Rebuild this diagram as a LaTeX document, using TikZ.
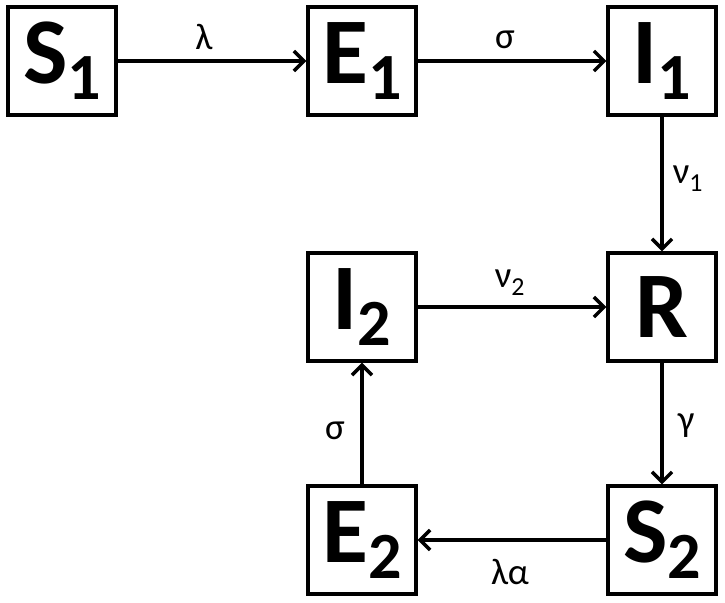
\documentclass[tikz,border=0pt]{standalone}
\usepackage{fontspec}
\setmainfont{Carlito}
\usetikzlibrary{arrows.meta}
\tikzset{
  compbox/.style={draw, line width=3.4pt, minimum width=108pt, minimum height=108pt, inner sep=0pt, font=\bfseries\fontsize{94}{94}\selectfont},
  flow/.style={line width=3.4pt, -{Straight Barb[length=10pt,width=20pt,line width=3.4pt]}},
  rate/.style={font=\fontsize{37}{37}\selectfont, inner sep=0pt}
}
\newcommand{\sbx}[1]{\raisebox{-16pt}{\fontsize{66}{66}\selectfont #1}}
\begin{document}
\begin{tikzpicture}[x=1pt,y=-1pt]
\useasboundingbox (0,0) rectangle (725,602);
\node[compbox] (S1) at (62,61) {S\sbx{1}};
\node[compbox] (E1) at (362,61) {E\sbx{1}};
\node[compbox] (I1) at (662,61) {I\sbx{1}};
\node[compbox] (R) at (662,307) {R};
\node[compbox] (I2) at (362,307) {I\sbx{2}};
\node[compbox] (E2) at (362,540) {E\sbx{2}};
\node[compbox] (S2) at (662,540) {S\sbx{2}};
\draw[flow] (S1) -- (E1);
\draw[flow] (E1) -- (I1);
\draw[flow] (I1) -- (R);
\draw[flow] (I2) -- (R);
\draw[flow] (R) -- (S2);
\draw[flow] (S2) -- (E2);
\draw[flow] (E2) -- (I2);
\node[rate] (l1) at (204,37) {λ};
\node[rate] (s1) at (505,40) {σ};
\node[rate] (n1) at (688,179) {ν\textsubscript{1}};
\node[rate] (n2) at (510,283) {ν\textsubscript{2}};
\node[rate] (g) at (686,426) {γ};
\node[rate] (s2) at (335,431) {σ};
\node[rate] (la) at (510,572) {λα};
\end{tikzpicture}
\end{document}
